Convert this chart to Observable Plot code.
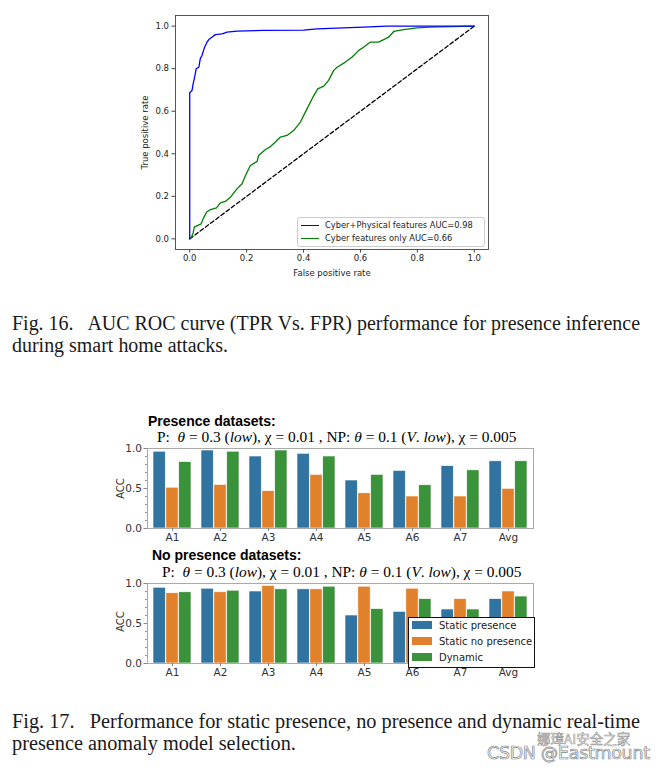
<!DOCTYPE html>
<html><head><meta charset="utf-8">
<script src="https://cdn.jsdelivr.net/npm/d3@7"></script>
<script src="https://cdn.jsdelivr.net/npm/@observablehq/plot@0.6"></script>
<style>
body{margin:0;background:#fff;width:667px;height:770px;position:relative;overflow:hidden;}
.abs{position:absolute;white-space:nowrap;}
.cap{font-family:"Liberation Serif",serif;font-size:20px;color:#1a1a1a;line-height:22px;left:12px;transform-origin:0 50%;}
.ttl{font-family:"Liberation Sans",Arial,sans-serif;font-weight:bold;font-size:14px;color:#000;line-height:16px;}
.sub{font-family:"Liberation Serif",serif;font-size:15.4px;color:#000;line-height:16px;}
.acc{font-family:"DejaVu Sans",sans-serif;font-size:10px;color:#333;transform:rotate(-90deg);transform-origin:center;}
.rocleg{left:297px;top:217px;width:186px;height:28px;border:1px solid #ccc;border-radius:3px;background:rgba(255,255,255,0.8);font-family:"DejaVu Sans",sans-serif;font-size:8.3px;color:#222;}
.rocleg .row{position:absolute;left:3px;height:12px;line-height:12px;}
.rocleg .ln{display:inline-block;width:18px;height:1.5px;vertical-align:middle;margin-right:6px;}
.barleg{left:408px;top:617px;width:125px;height:49px;border:1.3px solid #111;background:#fff;font-family:"DejaVu Sans",sans-serif;font-size:10px;color:#222;}
.barleg .row{position:absolute;left:3px;height:16px;line-height:16px;}
.barleg .sw{display:inline-block;width:20px;height:8px;vertical-align:middle;margin-right:7px;margin-top:-2px;}
.wm1{left:537px;top:732px;font-family:"Noto Sans CJK SC",sans-serif;font-size:13.5px;line-height:12px;color:#fafafa;-webkit-text-stroke:0.6px #999;}
.wm2{left:487px;top:746px;font-family:"DejaVu Sans",sans-serif;font-size:17.4px;line-height:14px;color:#fafafa;-webkit-text-stroke:0.7px #888;letter-spacing:-0.25px;}
</style></head><body>
<div id="roc" class="abs" style="left:130px;top:5px"></div>
<div class="abs rocleg">
  <div class="row" style="top:1px"><span class="ln" style="background:#0000ff"></span>Cyber+Physical features AUC=0.98</div>
  <div class="row" style="top:14px"><span class="ln" style="background:#008000"></span>Cyber features only AUC=0.66</div>
</div>
<div class="abs cap" data-g="c1" data-first="1" style="top:312px">Fig. 16.&nbsp;&nbsp; AUC ROC curve (TPR Vs. FPR) performance for presence inference</div>
<div class="abs cap" data-g="c1" style="top:334px">during smart home attacks.</div>

<div class="abs ttl" style="left:148px;top:413px">Presence datasets:</div>
<div class="abs sub" style="left:157px;top:429px">P:&nbsp; <i>θ</i> = 0.3 (<i>low</i>), χ = 0.01 , NP: <i>θ</i> = 0.1 (<i>V</i>. <i>low</i>), χ = 0.005</div>
<div id="bar1" class="abs" style="left:100px;top:443px"></div>
<div class="abs acc" style="left:106px;top:483px;width:28px;text-align:center">ACC</div>

<div class="abs ttl" style="left:152px;top:547px">No presence datasets:</div>
<div class="abs sub" style="left:162px;top:564px">P:&nbsp; <i>θ</i> = 0.3 (<i>low</i>), χ = 0.01 , NP: <i>θ</i> = 0.1 (<i>V</i>. <i>low</i>), χ = 0.005</div>
<div id="bar2" class="abs" style="left:100px;top:578px"></div>
<div class="abs acc" style="left:106px;top:616px;width:28px;text-align:center">ACC</div>
<div class="abs barleg">
  <div class="row" style="top:0px"><span class="sw" style="background:#3274a1"></span>Static presence</div>
  <div class="row" style="top:16px"><span class="sw" style="background:#e1812c"></span>Static no presence</div>
  <div class="row" style="top:32px"><span class="sw" style="background:#3a923a"></span>Dynamic</div>
</div>

<div class="abs cap" data-g="c2" data-first="1" style="top:710px">Fig. 17.&nbsp;&nbsp; Performance for static presence, no presence and dynamic real-time</div>
<div class="abs cap" data-g="c2" style="top:732px">presence anomaly model selection.</div>
<div class="abs wm1">娜璋AI安全之家</div>
<div class="abs wm2">CSDN @Eastmount</div>

<script>
// ROC data
const blueFPR = [0, 0, 0.008, 0.012, 0.016, 0.023, 0.032, 0.037, 0.043, 0.052, 0.061, 0.067, 0.078, 0.09, 0.114, 0.131, 0.166, 0.26, 0.40, 0.447, 0.61, 0.693, 1.0];
const blueTPR = [0, 0.687, 0.697, 0.729, 0.752, 0.80, 0.807, 0.846, 0.862, 0.90, 0.925, 0.937, 0.948, 0.96, 0.964, 0.972, 0.977, 0.98, 0.981, 0.987, 0.995, 1.0, 1.0];
const greenFPR = [0, 0.006, 0.012, 0.016, 0.032, 0.04, 0.047, 0.059, 0.07, 0.094, 0.108, 0.125, 0.143, 0.166, 0.184, 0.196, 0.213, 0.237, 0.242, 0.266, 0.281, 0.301, 0.318, 0.342, 0.365, 0.389, 0.412, 0.433, 0.45, 0.471, 0.488, 0.506, 0.518, 0.547, 0.57, 0.594, 0.611, 0.635, 0.664, 0.699, 0.717, 0.752, 0.799, 0.845, 1.0];
const greenTPR = [0, 0.008, 0.028, 0.055, 0.066, 0.07, 0.094, 0.125, 0.136, 0.146, 0.169, 0.176, 0.196, 0.235, 0.259, 0.298, 0.345, 0.364, 0.392, 0.42, 0.431, 0.455, 0.478, 0.486, 0.509, 0.549, 0.611, 0.666, 0.705, 0.718, 0.745, 0.792, 0.807, 0.831, 0.854, 0.886, 0.901, 0.925, 0.925, 0.948, 0.975, 0.984, 0.992, 0.995, 1.0];
const chanceX = [0, 1];
const chanceY = [0, 1];
const rocTicks = [0, 0.2, 0.4, 0.6, 0.8, 1.0];

// Bar data
const categories = ["A1", "A2", "A3", "A4", "A5", "A6", "A7", "Avg"];
const seriesNames = ["Static presence", "Static no presence", "Dynamic"];
const seriesColors = ["#3274a1", "#e1812c", "#3a923a"];
const presStatic   = [0.96, 0.975, 0.90, 0.934, 0.60, 0.72, 0.78, 0.84];
const presNoPres   = [0.51, 0.545, 0.467, 0.67, 0.44, 0.40, 0.40, 0.496];
const presDynamic  = [0.83, 0.96, 0.975, 0.90, 0.67, 0.54, 0.727, 0.84];
const npStatic     = [0.947, 0.935, 0.90, 0.927, 0.60, 0.646, 0.675, 0.805];
const npNoPres     = [0.878, 0.89, 0.97, 0.927, 0.96, 0.935, 0.805, 0.90];
const npDynamic    = [0.89, 0.91, 0.927, 0.96, 0.68, 0.805, 0.675, 0.837];
const majorTicks = [0, 0.5, 1.0];
const minorTicks = [0, 0.1, 0.2, 0.3, 0.4, 0.5, 0.6, 0.7, 0.8, 0.9, 1.0];

const toPts = (xs, ys) => xs.map((x, i) => ({x, y: ys[i]}));

const roc = Plot.plot({
  width: 365, height: 280,
  marginLeft: 45, marginRight: 7, marginTop: 10, marginBottom: 36,
  style: {fontFamily: "DejaVu Sans, sans-serif", fontSize: "8.5px", color: "#222", background: "transparent"},
  x: {domain: [-0.05, 1.05]},
  y: {domain: [-0.05, 1.05]},
  marks: [
    Plot.frame({stroke: "#444", strokeWidth: 0.9}),
    Plot.line(toPts(chanceX, chanceY), {x: "x", y: "y", stroke: "#000", strokeWidth: 1.3, strokeDasharray: "4,2.5"}),
    Plot.line(toPts(greenFPR, greenTPR), {x: "x", y: "y", stroke: "#008000", strokeWidth: 1.3}),
    Plot.line(toPts(blueFPR, blueTPR), {x: "x", y: "y", stroke: "#0000ff", strokeWidth: 1.3}),
    Plot.axisX({ticks: rocTicks, tickFormat: d3.format(".1f"), tickSize: 3.5, tickPadding: 2, stroke: "#444", label: "False positive rate", labelAnchor: "center", labelOffset: 26, labelArrow: "none"}),
    Plot.axisY({ticks: rocTicks, tickFormat: d3.format(".1f"), tickSize: 3.5, tickPadding: 3, stroke: "#444", label: "True positive rate", labelAnchor: "center", labelOffset: 34, labelArrow: "none"})
  ]
});
document.getElementById("roc").appendChild(roc);

function barChart(vals, el) {
  const rows = [];
  vals.forEach((arr, si) => arr.forEach((v, ci) => rows.push({cat: categories[ci], series: seriesNames[si], si, value: v})));
  const W = 440, mL = 47, mR = 7;
  const step = (W - mL - mR) / categories.length;
  const bw = step * 0.8 / 3;
  const marks = [];
  seriesNames.forEach((s, si) => {
    marks.push(Plot.barY(rows.filter(d => d.si === si), {
      x: "cat", y: "value", fill: seriesColors[si], stroke: "#fff", strokeWidth: 0.6,
      insetLeft: si * bw, insetRight: (2 - si) * bw
    }));
  });
  const chart = Plot.plot({
    width: W, height: 107,
    marginLeft: mL, marginRight: mR, marginTop: 5, marginBottom: 22,
    style: {fontFamily: "DejaVu Sans, sans-serif", fontSize: "10.5px", color: "#333", background: "transparent"},
    x: {domain: categories, paddingInner: 0.2, paddingOuter: 0.1},
    y: {domain: [0, 1]},
    marks: [
      ...marks,
      Plot.frame({stroke: "#aaa", strokeWidth: 1}),
      Plot.axisX({tickSize: 3, tickPadding: 2, stroke: "#888", label: null}),
      Plot.axisY({ticks: minorTicks, tickFormat: () => "", tickSize: 2, stroke: "#999", label: null}),
      Plot.axisY({ticks: majorTicks, tickFormat: d3.format(".1f"), tickSize: 3.5, tickPadding: 2, stroke: "#888", label: null})
    ]
  });
  document.getElementById(el).appendChild(chart);
}
barChart([presStatic, presNoPres, presDynamic], "bar1");
barChart([npStatic, npNoPres, npDynamic], "bar2");

// fit caption first lines to the column width (justified text)
["c1", "c2"].forEach(g => {
  const lines = [...document.querySelectorAll(`.cap[data-g="${g}"]`)];
  const first = lines.find(l => l.dataset.first);
  const s = 628 / first.getBoundingClientRect().width;
  lines.forEach(l => l.style.transform = `scaleX(${s})`);
});
</script>
</body></html>
